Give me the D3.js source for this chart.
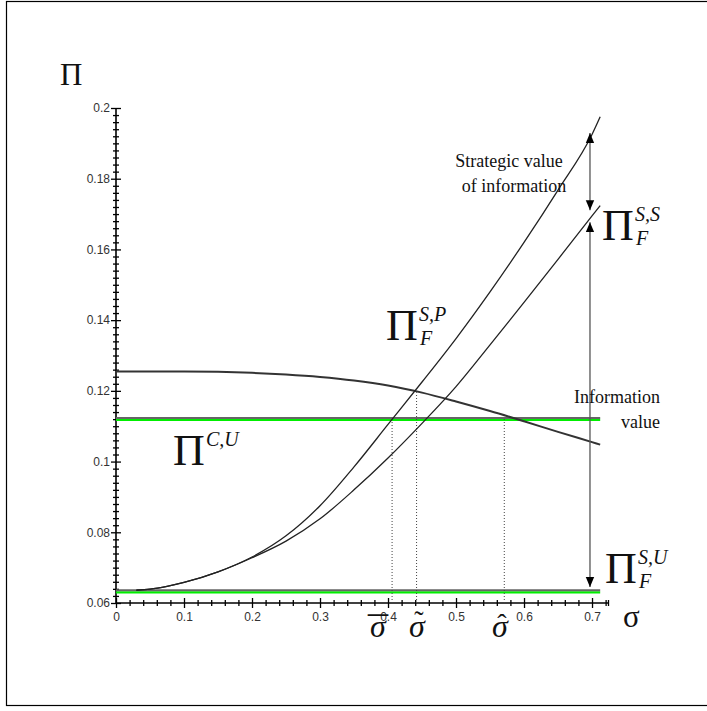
<!DOCTYPE html>
<html>
<head>
<meta charset="utf-8">
<script src="https://cdnjs.cloudflare.com/ajax/libs/d3/7.8.5/d3.min.js"></script>
<style>
  body { margin:0; background:#fff; }
  svg { display:block; }
  .serif { font-family:"Liberation Serif", "Times New Roman", serif; fill:#111; }
</style>
</head>
<body>
<div id="chart"></div>
<script>
// sigma grid shared by the curves
var sigma    = [0.03, 0.05, 0.075, 0.1, 0.15, 0.2, 0.25, 0.3, 0.35, 0.4, 0.45, 0.5, 0.55, 0.6, 0.65, 0.7, 0.712];
// Pi_F^{S,P}  (upper rising curve)
var piSP     = [0.0636, 0.0639, 0.0647, 0.0658, 0.0688, 0.073, 0.079, 0.0875, 0.0985, 0.1105, 0.1225, 0.1348, 0.148, 0.162, 0.1768, 0.1925, 0.1975];
// Pi_F^{S,S}  (lower rising curve)
var piSS     = [0.0636, 0.0639, 0.0647, 0.0658, 0.0688, 0.0728, 0.0775, 0.0838, 0.092, 0.101, 0.1108, 0.1212, 0.133, 0.145, 0.1572, 0.1695, 0.1724];
// decreasing curve
var sigmaDec = [0, 0.05, 0.1, 0.15, 0.2, 0.25, 0.3, 0.35, 0.4, 0.45, 0.5, 0.55, 0.6, 0.65, 0.7, 0.712];
var piDec    = [0.1255, 0.1255, 0.1255, 0.1254, 0.1251, 0.1246, 0.1239, 0.1229, 0.1215, 0.1195, 0.117, 0.1143, 0.1114, 0.1084, 0.1055, 0.1048];

// flat levels: Pi^{C,U} and Pi_F^{S,U} (grey line + green line)
var levelsGrey  = [0.1123, 0.0636];
var levelsGreen = [0.1118, 0.0630];
var levelRange  = [0, 0.712];

// critical sigmas (dotted verticals): position and value where they stop
var critSigma = [0.406, 0.442, 0.571];
var critTop   = [0.1123, 0.1196, 0.1123];
var critName  = ["\u03c3", "\u03c3", "\u03c3"];
var critAccent = ["\u00af", "\u02dc", "\u02c6"];

// double-headed arrows at sigma = 0.697
var arrowSigma = 0.697;
var arrowLo = [0.1711, 0.0645];
var arrowHi = [0.1929, 0.1677];

// ticks
var xMajor = [0, 0.1, 0.2, 0.3, 0.4, 0.5, 0.6, 0.7];
var xLabels = ["0", "0.1", "0.2", "0.3", "0.4", "0.5", "0.6", "0.7"];
var yMajor = [0.06, 0.08, 0.1, 0.12, 0.14, 0.16, 0.18, 0.2];
var yLabels = ["0.06", "0.08", "0.1", "0.12", "0.14", "0.16", "0.18", "0.2"];

var W = 707, H = 711;

var svg = d3.select("#chart").append("svg")
    .attr("width", W)
    .attr("height", H);

// outer frame
svg.append("rect")
    .attr("x", 6.5).attr("y", 1.5)
    .attr("width", 720).attr("height", 704)
    .attr("fill", "none")
    .attr("stroke", "#000")
    .attr("stroke-width", 1.2);

var x = d3.scaleLinear().domain([0, 0.7235]).range([116, 608]),
    y = d3.scaleLinear().domain([0.06, 0.2]).range([603, 108]);

var xMinor = d3.range(0, 0.7235, 0.02).filter(function(v) {
      return xMajor.every(function(m) { return Math.abs(m - v) > 1e-6; });
    }).concat([0.7235]),
    yMinor = d3.range(0.06, 0.2, 0.002).filter(function(v) {
      return yMajor.every(function(m) { return Math.abs(m - v) > 1e-6; });
    });

// x axis: ticks crossing both sides of the line
function xAxis(sel, vals, size, labels) {
  var g = sel.append("g")
      .attr("transform", "translate(0," + y(0.06) + ")")
      .call(d3.axisBottom(x).tickValues(vals).tickSize(size).tickSizeOuter(0)
        .tickFormat(function(d, i) { return labels ? labels[i] : ""; }));
  g.selectAll(".tick line").attr("y1", -size).attr("stroke", "#000").attr("stroke-width", 1.3);
  g.selectAll(".tick text")
      .attr("y", 9)
      .style("font-family", "'Liberation Sans', Arial, sans-serif")
      .style("font-size", "12px")
      .attr("fill", "#333");
  g.select(".domain").remove();
}
function yAxis(sel, vals, size, labels) {
  var g = sel.append("g")
      .attr("transform", "translate(" + x(0) + ",0)")
      .call(d3.axisLeft(y).tickValues(vals).tickSize(size).tickSizeOuter(0)
        .tickFormat(function(d, i) { return labels ? labels[i] : ""; }));
  g.selectAll(".tick line").attr("x1", size).attr("stroke", "#000").attr("stroke-width", 1.3);
  g.selectAll(".tick text")
      .attr("x", -6)
      .style("font-family", "'Liberation Sans', Arial, sans-serif")
      .style("font-size", "12px")
      .attr("fill", "#333");
  g.select(".domain").remove();
}
xAxis(svg, xMinor, 3, null);
xAxis(svg, xMajor, 5, xLabels);
yAxis(svg, yMinor, 3, null);
yAxis(svg, yMajor, 5, yLabels);

svg.append("line")
    .attr("x1", x(0)).attr("x2", x(0.7235))
    .attr("y1", y(0.06)).attr("y2", y(0.06))
    .attr("stroke", "#000").attr("stroke-width", 1.6);
svg.append("line")
    .attr("x1", x(0)).attr("x2", x(0))
    .attr("y1", y(0.06)).attr("y2", y(0.2))
    .attr("stroke", "#000").attr("stroke-width", 1.6);

// flat levels
levelsGreen.forEach(function(v) {
  svg.append("line")
      .attr("x1", x(levelRange[0])).attr("x2", x(levelRange[1]))
      .attr("y1", y(v)).attr("y2", y(v))
      .attr("stroke", "#00ee00").attr("stroke-width", 2.2);
});
levelsGrey.forEach(function(v) {
  svg.append("line")
      .attr("x1", x(levelRange[0])).attr("x2", x(levelRange[1]))
      .attr("y1", y(v)).attr("y2", y(v))
      .attr("stroke", "#666").attr("stroke-width", 2);
});

// dotted verticals
critSigma.forEach(function(s, i) {
  svg.append("line")
      .attr("x1", x(s)).attr("x2", x(s))
      .attr("y1", y(0.06)).attr("y2", y(critTop[i]))
      .attr("stroke", "#444").attr("stroke-width", 1)
      .attr("stroke-dasharray", "1,2");
});

var line = d3.line()
    .x(function(d) { return x(d[0]); })
    .y(function(d) { return y(d[1]); })
    .curve(d3.curveMonotoneX);

svg.append("path")
    .datum(d3.zip(sigmaDec, piDec))
    .attr("d", line)
    .attr("fill", "none").attr("stroke", "#333").attr("stroke-width", 2);
[piSP, piSS].forEach(function(vals) {
  svg.append("path")
      .datum(d3.zip(sigma, vals))
      .attr("d", line)
      .attr("fill", "none").attr("stroke", "#222").attr("stroke-width", 1.3);
});

// arrows
svg.append("defs").append("marker")
    .attr("id", "head")
    .attr("viewBox", "0 0 10 10")
    .attr("refX", 10).attr("refY", 5)
    .attr("markerWidth", 10).attr("markerHeight", 10)
    .attr("markerUnits", "userSpaceOnUse")
    .attr("orient", "auto-start-reverse")
  .append("path")
    .attr("d", "M0,0.8 L10,5 L0,9.2 Z")
    .attr("fill", "#000");
arrowLo.forEach(function(lo, i) {
  svg.append("line")
      .attr("x1", x(arrowSigma)).attr("x2", x(arrowSigma))
      .attr("y1", y(lo)).attr("y2", y(arrowHi[i]))
      .attr("stroke", "#555").attr("stroke-width", 1.3)
      .attr("marker-start", "url(#head)")
      .attr("marker-end", "url(#head)");
});

// annotation text
function words(txt, px, py, anchor) {
  svg.append("text").attr("class", "serif")
      .attr("x", px).attr("y", py)
      .attr("text-anchor", anchor)
      .style("font-size", "18px")
      .text(txt);
}
words("Strategic value", 509, 167, "middle");
words("of information", 514, 192, "middle");
words("Information", 660, 403, "end");
words("value", 660, 428, "end");

// Pi labels: left edge and baseline of the big Pi, super/subscripts
function piLabel(px, py, sup, sub) {
  svg.append("text").attr("class", "serif")
      .attr("x", px).attr("y", py)
      .style("font-size", "44px")
      .text("\u03a0");
  svg.append("text").attr("class", "serif")
      .attr("x", px + 33).attr("y", py - 19)
      .style("font-size", "20px").style("font-style", "italic")
      .text(sup);
  if (sub) {
    svg.append("text").attr("class", "serif")
        .attr("x", px + 34).attr("y", py + 5)
        .style("font-size", "20px").style("font-style", "italic")
        .text(sub);
  }
}
piLabel(602, 240, "S,S", "F");
piLabel(386, 340, "S,P", "F");
piLabel(605, 583, "S,U", "F");
piLabel(173, 465, "C,U", null);

// axis titles
svg.append("text").attr("class", "serif")
    .attr("x", 60).attr("y", 85)
    .style("font-size", "31px")
    .text("\u03a0");
svg.append("text").attr("class", "serif")
    .attr("x", 623).attr("y", 627)
    .style("font-size", "31px")
    .text("\u03c3");

// critical sigma names under the axis
var labelX = [378, 417, 500];
var accentDx = [0, 2, 2], accentY = [645, 630, 633], accentSize = [40, 28, 28];
critName.forEach(function(nm, i) {
  svg.append("text").attr("class", "serif")
      .attr("x", labelX[i]).attr("y", 637)
      .attr("text-anchor", "middle")
      .style("font-size", "32px").style("font-style", "italic")
      .text(nm);
  svg.append("text").attr("class", "serif")
      .attr("x", labelX[i] + accentDx[i]).attr("y", accentY[i])
      .attr("text-anchor", "middle")
      .style("font-size", accentSize[i] + "px")
      .text(critAccent[i]);
});
</script>
</body>
</html>
